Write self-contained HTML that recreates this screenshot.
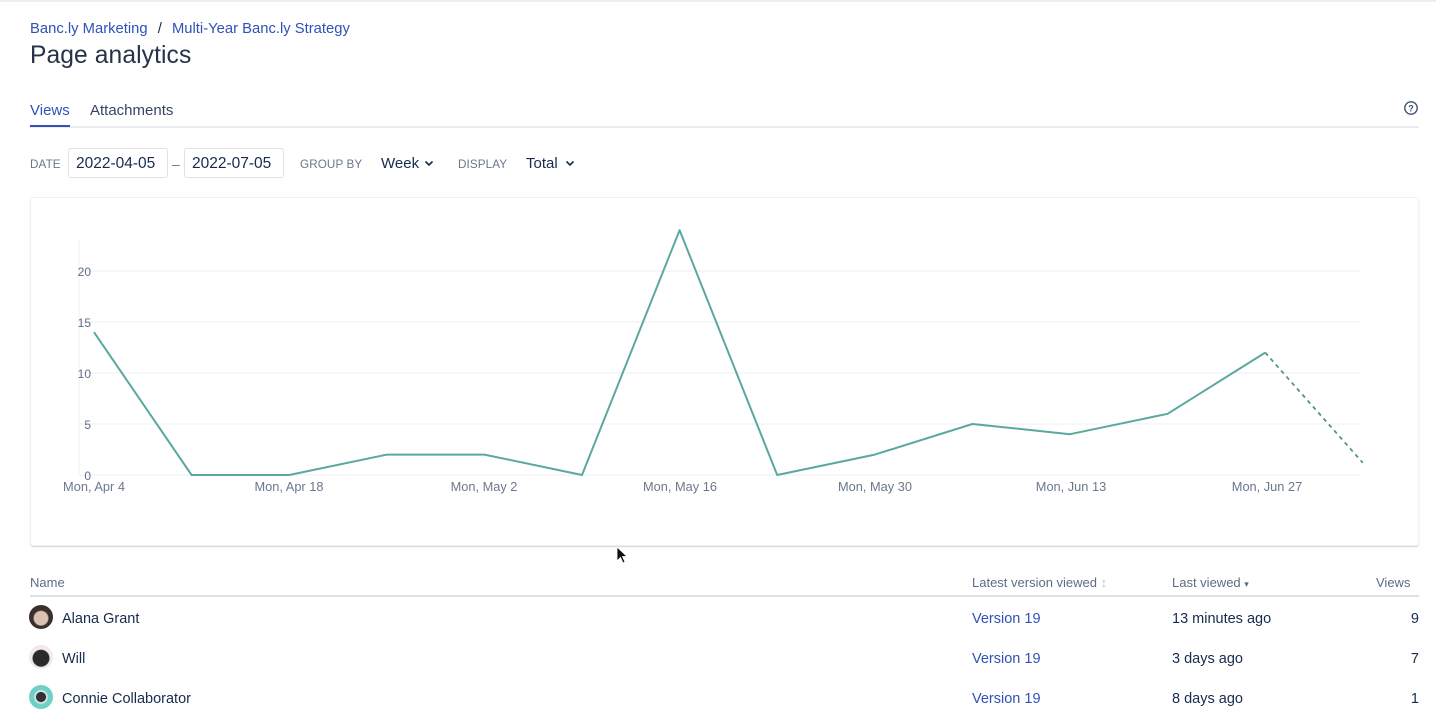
<!DOCTYPE html>
<html><head><meta charset="utf-8"><style>
*{margin:0;padding:0;box-sizing:border-box}
body{width:1436px;height:716px;overflow:hidden;background:#fff;font-family:"Liberation Sans",sans-serif;color:#172b4d;position:relative}
.a{position:absolute;white-space:nowrap}
.blue{color:#2f52b8}
.lbl{font-size:11.7px;color:#6b778c;letter-spacing:0.1px}
.box{position:absolute;border:1px solid #dfe1e6;border-radius:3px;font-size:15.5px;padding:6px 0 0 7px;height:30px}
.th{font-size:13px;color:#5e6c84}
.td{font-size:14.5px}
.av{position:absolute;width:24px;height:24px;border-radius:50%}
</style></head><body>
<div class="a" style="left:0;top:0;width:1436px;height:2px;background:#eceef1"></div>
<div class="a blue" style="left:30px;top:21px;font-size:14.8px">Banc.ly Marketing <span style="color:#172b4d;margin:0 6px">/</span> Multi-Year Banc.ly Strategy</div>
<div class="a" style="left:30px;top:42px;font-size:24.6px;color:#253247;letter-spacing:0.1px">Page analytics</div>
<div class="a blue" style="left:30px;top:102px;font-size:15px;color:#2f52b8">Views</div>
<div class="a" style="left:90px;top:102px;font-size:15px;color:#344563">Attachments</div>
<div class="a" style="left:30px;top:126px;width:1389px;height:2px;background:#ebecf0"></div>
<div class="a" style="left:30px;top:125px;width:40px;height:2px;background:#2f52b8"></div>
<svg class="a" style="left:1403px;top:100px" width="16" height="16"><circle cx="8" cy="8" r="6.2" fill="none" stroke="#42526e" stroke-width="1.4"/><text x="8" y="11.5" font-size="9" font-weight="bold" text-anchor="middle" fill="#42526e" font-family="Liberation Sans">?</text></svg>

<div class="a lbl" style="left:30px;top:158px">DATE</div>
<div class="box" style="left:68px;top:148px;width:100px">2022-04-05</div>
<div class="a" style="left:172px;top:156px;font-size:14px;color:#6b778c">–</div>
<div class="box" style="left:184px;top:148px;width:100px">2022-07-05</div>
<div class="a lbl" style="left:300px;top:158px">GROUP BY</div>
<div class="a" style="left:381px;top:155px;font-size:15px">Week</div>
<div class="a lbl" style="left:458px;top:158px">DISPLAY</div>
<div class="a" style="left:526px;top:155px;font-size:15px">Total</div>
<svg class="a" style="left:424px;top:160px" width="14" height="8"><path d="M1.5 1.5 L5 5 L8.5 1.5" fill="none" stroke="#172b4d" stroke-width="1.6"/></svg>
<svg class="a" style="left:565px;top:160px" width="14" height="8"><path d="M1.5 1.5 L5 5 L8.5 1.5" fill="none" stroke="#172b4d" stroke-width="1.6"/></svg>

<div class="a" style="left:30px;top:197px;width:1389px;height:349px;border:1px solid #f0f1f3;border-radius:3px;box-shadow:0 1px 1px rgba(9,30,66,0.2)"></div>
<svg class="a" style="left:0;top:0" width="1436" height="716" font-family="Liberation Sans">
<g stroke="#f1f2f4" stroke-width="1.2">
<line x1="80" y1="271" x2="1360" y2="271"/>
<line x1="80" y1="322" x2="1360" y2="322"/>
<line x1="80" y1="373" x2="1360" y2="373"/>
<line x1="80" y1="424" x2="1360" y2="424"/>
<line x1="80" y1="475" x2="1360" y2="475"/>
<line x1="79" y1="240" x2="79" y2="475"/>
</g>
<g font-size="12" fill="#5e6c84" text-anchor="end">
<text x="91" y="276">20</text>
<text x="91" y="327">15</text>
<text x="91" y="378">10</text>
<text x="91" y="429">5</text>
<text x="91" y="480">0</text>
</g>
<g font-size="12.8" fill="#6b778c" text-anchor="middle">
<text x="94" y="491">Mon, Apr 4</text>
<text x="289" y="491">Mon, Apr 18</text>
<text x="484" y="491">Mon, May 2</text>
<text x="680" y="491">Mon, May 16</text>
<text x="875" y="491">Mon, May 30</text>
<text x="1071" y="491">Mon, Jun 13</text>
<text x="1267" y="491">Mon, Jun 27</text>
</g>
<polyline fill="none" stroke="#5ba89f" stroke-width="2" stroke-linejoin="round" points="94,332.2 191.6,475 289.2,475 386.8,454.6 484.4,454.6 582,475 679.6,230.2 777.2,475 874.8,454.6 972.4,424 1070,434.2 1167.6,413.8 1265.2,352.6"/>
<line x1="1265.2" y1="352.6" x2="1362.8" y2="462.8" stroke="#5b8f89" stroke-width="1.8" stroke-dasharray="4,4"/>
<path d="M617 547 L617 561 L620.5 557.5 L623 563 L625 562 L622.5 556.5 L627 556.5 Z" fill="#111" stroke="#fff" stroke-width="0.8"/>
</svg>

<div class="a th" style="left:30px;top:575px">Name</div>
<div class="a th" style="left:972px;top:575px">Latest version viewed <span style="color:#c1c7d0">&#8597;</span></div>
<div class="a th" style="left:1172px;top:575px">Last viewed <span style="font-size:9px">&#9662;</span></div>
<div class="a th" style="left:1376px;top:575px">Views</div>
<div class="a" style="left:30px;top:595px;width:1389px;height:2px;background:#dfe1e6"></div>

<div class="av" style="left:29px;top:605px;background:radial-gradient(circle at 50% 55%,#d9c1b4 0 38%,#3b2f2c 45%)"></div>
<div class="av" style="left:29px;top:645px;background:radial-gradient(circle at 50% 55%,#2a2a2a 0 45%,#f1e9ea 50%)"></div>
<div class="av" style="left:29px;top:685px;background:radial-gradient(circle at 50% 50%,#333 0 28%,#f3f3f3 32%,#6fd0c8 45%)"></div>
<div class="a td" style="left:62px;top:611px">Alana Grant</div>
<div class="a td" style="left:62px;top:651px">Will</div>
<div class="a td" style="left:62px;top:691px">Connie Collaborator</div>
<div class="a td blue" style="left:972px;top:611px">Version 19</div>
<div class="a td blue" style="left:972px;top:651px">Version 19</div>
<div class="a td blue" style="left:972px;top:691px">Version 19</div>
<div class="a td" style="left:1172px;top:611px">13 minutes ago</div>
<div class="a td" style="left:1172px;top:651px">3 days ago</div>
<div class="a td" style="left:1172px;top:691px">8 days ago</div>
<div class="a td" style="right:17px;top:611px">9</div>
<div class="a td" style="right:17px;top:651px">7</div>
<div class="a td" style="right:17px;top:691px">1</div>
</body></html>
